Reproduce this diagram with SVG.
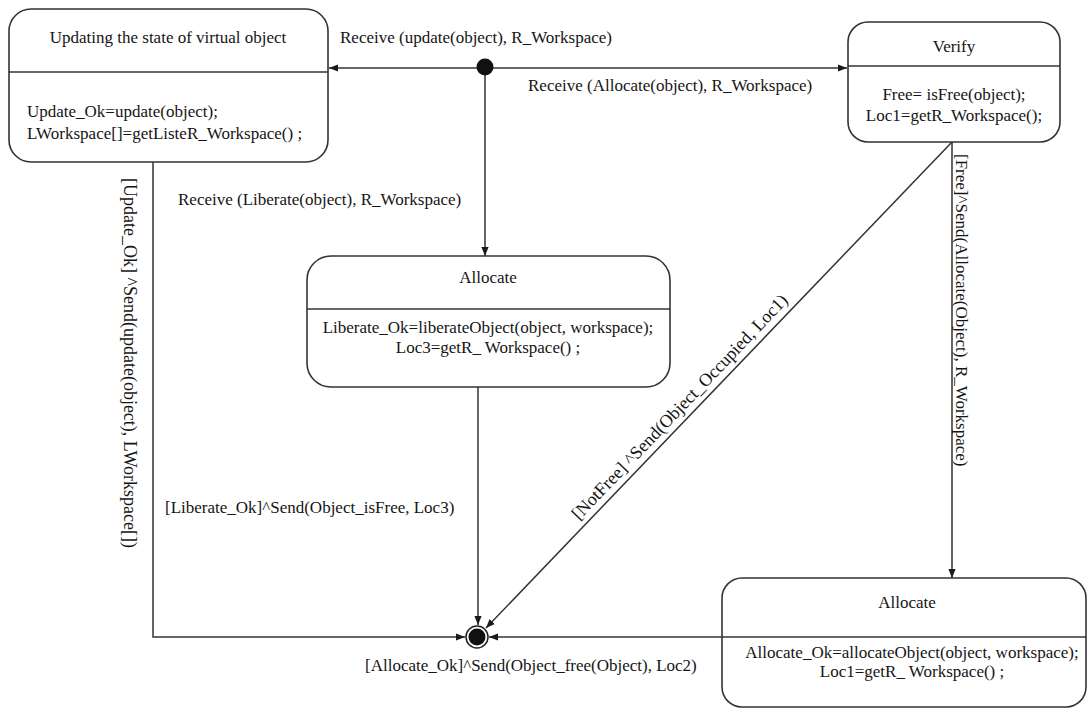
<svg xmlns="http://www.w3.org/2000/svg" width="1088" height="710" viewBox="0 0 1088 710">
  <defs>
    <marker id="arrow" viewBox="0 0 10 10" refX="10" refY="5" markerWidth="9" markerHeight="9" markerUnits="userSpaceOnUse" orient="auto">
      <path d="M0,1 L10,5 L0,9 Z" fill="#1a1a1a"/>
    </marker>
    <style>
      .state { fill: #ffffff; stroke: #333333; stroke-width: 1.6; }
      .divider { stroke: #333333; stroke-width: 1.6; }
      .edge { fill: none; stroke: #333333; stroke-width: 1.5; }
      text { font-family: "Liberation Serif", "Times New Roman", serif; font-size: 17px; fill: #151515; }
      .c { text-anchor: middle; }
      .rot { font-size: 18px; }
      .rot-s { font-size: 17px; }
    </style>
  </defs>

  <rect width="1088" height="710" fill="#ffffff"/>

  <!-- transitions -->
  <g id="connectors">
    <line class="edge" x1="477" y1="68" x2="329" y2="68" marker-end="url(#arrow)"/>
    <line class="edge" x1="493" y1="68" x2="847" y2="68" marker-end="url(#arrow)"/>
    <line class="edge" x1="485" y1="74" x2="485" y2="256" marker-end="url(#arrow)"/>
    <line class="edge" x1="478" y1="387" x2="478" y2="625" marker-end="url(#arrow)"/>
    <path class="edge" d="M153,162 V637 H465" marker-end="url(#arrow)"/>
    <line class="edge" x1="952" y1="142" x2="486" y2="628" marker-end="url(#arrow)"/>
    <line class="edge" x1="952" y1="142" x2="952" y2="578" marker-end="url(#arrow)"/>
    <line class="edge" x1="722" y1="637" x2="489" y2="637" marker-end="url(#arrow)"/>

    <text x="340" y="43">Receive (update(object), R_Workspace)</text>
    <text x="528" y="91">Receive (Allocate(object), R_Workspace)</text>
    <text x="178" y="205">Receive (Liberate(object), R_Workspace)</text>
    <text x="165" y="513">[Liberate_Ok]^Send(Object_isFree, Loc3)</text>
    <text x="365" y="671">[Allocate_Ok]^Send(Object_free(Object), Loc2)</text>
    <text class="rot" transform="translate(124,178) rotate(90)">[Update_Ok] ^Send(update(object), LWorkspace[])</text>
    <text class="rot-s" transform="translate(956,154) rotate(90)">[Free]^Send(Allocate(Object), R_Workspace)</text>
    <text class="rot c" transform="translate(684,411) rotate(-46.3)">[NotFree] ^Send(Object_Occupied, Loc1)</text>
  </g>

  <!-- initial pseudo-state -->
  <g id="initial">
    <circle cx="485" cy="67" r="8.5" fill="#111111"/>
  </g>

  <!-- final state -->
  <g id="final">
    <circle cx="477" cy="637" r="11" fill="#ffffff" stroke="#222222" stroke-width="1.5"/>
    <circle cx="477" cy="637" r="8.5" fill="#111111"/>
  </g>

  <g id="state-update">
    <rect class="state" x="9" y="9" width="319" height="153" rx="22" ry="22"/>
    <line class="divider" x1="9" y1="72" x2="328" y2="72"/>
    <text class="c" x="168" y="43">Updating the state of virtual object</text>
    <text x="27" y="117">Update_Ok=update(object);</text>
    <text x="27" y="139">LWorkspace[]=getListeR_Workspace() ;</text>
  </g>

  <g id="state-verify">
    <rect class="state" x="848" y="22" width="212" height="120" rx="20" ry="20"/>
    <line class="divider" x1="848" y1="66" x2="1060" y2="66"/>
    <text class="c" x="954" y="52">Verify</text>
    <text class="c" x="954" y="100">Free= isFree(object);</text>
    <text class="c" x="954" y="121">Loc1=getR_Workspace();</text>
  </g>

  <g id="state-liberate">
    <rect class="state" x="307" y="256" width="363" height="131" rx="24" ry="24"/>
    <line class="divider" x1="307" y1="309" x2="670" y2="309"/>
    <text class="c" x="488" y="283">Allocate</text>
    <text class="c" x="488" y="333">Liberate_Ok=liberateObject(object, workspace);</text>
    <text class="c" x="488" y="353">Loc3=getR_ Workspace() ;</text>
  </g>

  <g id="state-allocate">
    <rect class="state" x="722" y="578" width="364" height="129" rx="20" ry="20"/>
    <line class="divider" x1="722" y1="637" x2="1086" y2="637"/>
    <text class="c" x="907" y="608">Allocate</text>
    <text class="c" x="912" y="658">Allocate_Ok=allocateObject(object, workspace);</text>
    <text class="c" x="912" y="677">Loc1=getR_ Workspace() ;</text>
  </g>
</svg>
